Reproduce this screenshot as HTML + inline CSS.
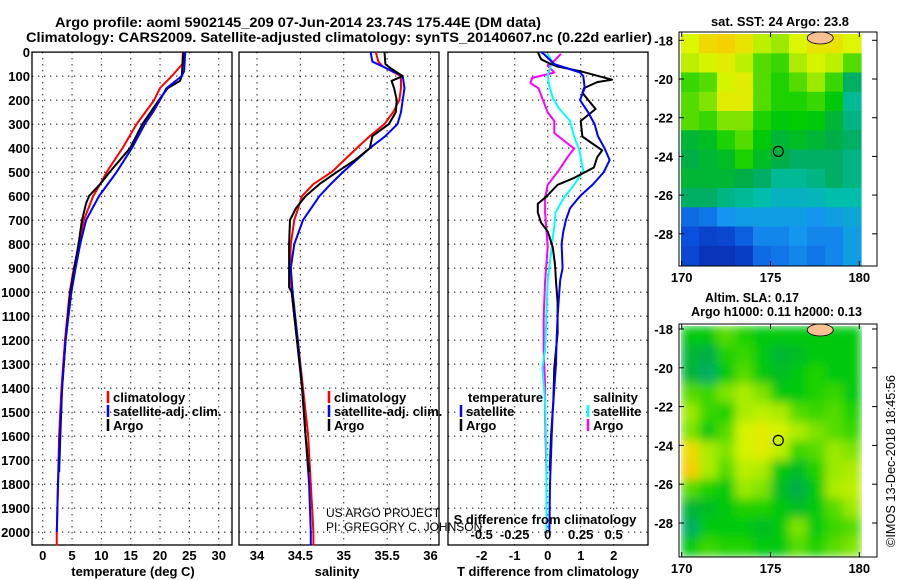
<!DOCTYPE html>
<html><head><meta charset="utf-8"><style>
html,body{margin:0;padding:0;background:#fff;}
svg{display:block;font-family:"Liberation Sans",sans-serif;}
.t{font-weight:bold;font-size:14px;}
.k{font-weight:bold;font-size:13px;}
.n{font-weight:normal;font-size:12px;}
</style></head><body>
<svg id="c" width="900" height="580" viewBox="0 0 900 580" xmlns="http://www.w3.org/2000/svg">
<text class="t" x="55" y="27" textLength="486" lengthAdjust="spacingAndGlyphs">Argo profile: aoml 5902145_209 07-Jun-2014 23.74S 175.44E (DM data)</text>
<text class="t" x="26" y="42" textLength="626" lengthAdjust="spacingAndGlyphs">Climatology: CARS2009. Satellite-adjusted climatology: synTS_20140607.nc (0.22d earlier)</text>
<text class="k" x="711" y="26" textLength="138" lengthAdjust="spacingAndGlyphs">sat. SST: 24 Argo: 23.8</text>
<text class="k" x="705" y="302" textLength="94" lengthAdjust="spacingAndGlyphs">Altim. SLA: 0.17</text>
<text class="k" x="691" y="316" textLength="171" lengthAdjust="spacingAndGlyphs">Argo h1000: 0.11 h2000: 0.13</text>
<text x="895" y="547" font-size="13" transform="rotate(-90 895 547)" textLength="172" lengthAdjust="spacingAndGlyphs">©IMOS 13-Dec-2018 18:45:56</text>
<g id="g"></g>
</svg>
<script>
// ---- profile data (pressure dbar) ----
var tDepth=[0,50,100,150,200,300,400,500,550,600,700,800,900,1000,1200,1400,1600,1800,2000,2056];
var tClim=[23.9,23.8,22.0,20.0,19.0,16.0,13.6,10.9,9.8,8.6,7.0,6.2,5.3,4.6,3.8,3.2,2.8,2.6,2.4,2.4];
var sDepth=[0,40,60,100,150,200,250,300,350,400,500,550,600,700,800,900,1000,1100,1200,1400,1600,1800,2000,2056];
var tSatDepth=[0,80,100,150,200,250,300,400,500,600,700,800,900,1000,1200,1400,1600,1800,2000];
var tSat=[24.3,24.1,23.7,21.1,20.0,18.8,17.4,15.2,12.6,9.6,7.4,6.4,5.6,4.9,3.9,3.3,2.9,2.6,2.4];
var tArgoDepth=[0,100,120,150,200,300,400,500,550,600,630,700,800,900,1000,1200,1400,1600,1750];
var tArgo=[24.0,23.7,23.4,21.3,19.8,17.0,14.9,11.4,9.8,7.9,7.4,6.7,6.1,5.4,4.7,3.9,3.3,3.0,2.8];
var sClim=[35.37,35.4,35.45,35.66,35.66,35.64,35.57,35.47,35.3,35.15,34.86,34.65,34.52,34.43,34.39,34.38,34.4,34.43,34.47,34.53,34.59,34.62,34.65,34.65];
var sSat=[35.31,35.33,35.45,35.68,35.7,35.68,35.66,35.62,35.48,35.3,34.99,34.85,34.72,34.53,34.43,34.39,34.41,34.44,34.47,34.52,34.56,34.6,34.62,34.62];
var sArgoDepth=[0,50,70,100,120,150,200,250,300,350,400,450,500,550,600,650,700,800,900,980,1000,1200,1400,1600,1750];
var sArgo=[35.47,35.48,35.55,35.68,35.55,35.58,35.61,35.6,35.52,35.33,35.3,35.13,34.92,34.72,34.56,34.45,34.38,34.37,34.37,34.37,34.4,34.46,34.52,34.56,34.6];
// differences
var dTSatDepth=[0,10,50,85,100,150,200,250,300,350,400,450,500,550,600,650,700,750,800,900,950,1000,1100,1200,1300,1400,1500,1600,1800,2000];
var dTSat=[-0.2,-0.1,0.2,0.98,1.08,1.12,0.98,1.22,1.42,1.52,1.72,1.88,1.7,1.38,0.98,0.68,0.55,0.47,0.42,0.45,0.38,0.35,0.3,0.27,0.25,0.2,0.15,0.12,0.07,0.05];
var dTArgoDepth=[0,30,50,60,80,115,125,150,170,237,287,352,381,409,438,481,524,553,603,632,668,711,747,812,884,955,1042,1171,1315,1458,1602,1745];
var dTArgo=[-0.3,-0.2,0.1,0.3,1.0,1.95,1.5,1.1,1.05,1.45,1.0,1.05,1.35,1.65,1.5,1.4,0.8,0.3,-0.05,-0.3,-0.3,-0.2,0.0,0.15,0.22,0.25,0.3,0.3,0.2,0.17,0.1,0.06];
var dSSatDepth=[7,36,65,93,136,194,237,287,352,409,467,496,553,610,668,725,812,955,1099,1243,1315,1458,1674,2005];
var dSSat=[0.0,0.03,0.02,0.0,0.01,0.04,0.09,0.17,0.2,0.24,0.26,0.27,0.2,0.12,0.06,0.05,0.03,0.0,-0.01,-0.02,-0.04,-0.02,-0.01,-0.01];
var dSArgoDepth=[7,36,57,85,108,129,151,208,251,287,337,381,402,438,496,553,610,668,812,955,1099,1243,1387,1530,1745];
var dSArgo=[0.1,0.05,0.0,0.05,-0.12,-0.13,-0.07,-0.03,0.0,0.05,0.05,0.15,0.2,0.15,0.08,0.0,-0.02,-0.02,0.0,-0.02,-0.03,-0.03,-0.02,-0.02,-0.01];
var depthTicks=[0,100,200,300,400,500,600,700,800,900,1000,1100,1200,1300,1400,1500,1600,1700,1800,1900,2000];
var tTicks=[0,5,10,15,20,25,30];
var sTicks=[34,34.5,35,35.5,36];
var sTickLabels=["34","34.5","35","35.5","36"];
var dTTicks=[-2,-1,0,1,2];
var dSTicks=[-0.5,-0.25,0,0.25,0.5];
var dSTickLabels=["-0.5","-0.25","0","0.25","0.5"];
// ---- map data (colormap index 0..1), rows north->south, 10 cols west->east ----
var sstGrid=[
[0.76,0.82,0.84,0.8,0.72,0.68,0.76,0.8,0.8,0.76],
[0.72,0.75,0.78,0.72,0.62,0.6,0.7,0.75,0.72,0.62],
[0.6,0.62,0.75,0.78,0.62,0.58,0.62,0.68,0.6,0.45],
[0.62,0.65,0.78,0.78,0.62,0.58,0.58,0.6,0.55,0.4],
[0.62,0.6,0.65,0.65,0.58,0.55,0.56,0.55,0.5,0.42],
[0.5,0.52,0.58,0.62,0.55,0.5,0.52,0.5,0.48,0.45],
[0.48,0.5,0.52,0.58,0.52,0.48,0.45,0.45,0.45,0.42],
[0.5,0.5,0.5,0.48,0.45,0.4,0.4,0.42,0.45,0.42],
[0.45,0.45,0.42,0.4,0.38,0.35,0.35,0.36,0.38,0.38],
[0.2,0.22,0.28,0.3,0.3,0.3,0.3,0.28,0.3,0.32],
[0.15,0.1,0.12,0.18,0.25,0.25,0.28,0.25,0.25,0.3],
[0.12,0.05,0.05,0.08,0.2,0.22,0.25,0.22,0.25,0.3]];
var slaGrid=[
[0.55,0.55,0.62,0.58,0.55,0.55,0.55,0.55,0.55,0.55],
[0.5,0.48,0.58,0.6,0.55,0.5,0.52,0.55,0.55,0.55],
[0.5,0.45,0.55,0.62,0.55,0.52,0.55,0.58,0.55,0.55],
[0.62,0.6,0.65,0.7,0.65,0.55,0.55,0.58,0.6,0.55],
[0.68,0.6,0.58,0.7,0.72,0.7,0.62,0.6,0.62,0.58],
[0.65,0.55,0.62,0.75,0.78,0.75,0.7,0.65,0.62,0.6],
[0.82,0.7,0.65,0.75,0.78,0.72,0.6,0.62,0.68,0.65],
[0.85,0.7,0.62,0.72,0.7,0.55,0.52,0.58,0.68,0.7],
[0.62,0.58,0.55,0.68,0.65,0.52,0.48,0.55,0.7,0.72],
[0.5,0.52,0.55,0.58,0.58,0.55,0.52,0.55,0.62,0.68],
[0.45,0.55,0.55,0.55,0.52,0.55,0.65,0.55,0.6,0.62],
[0.55,0.6,0.58,0.58,0.55,0.55,0.62,0.58,0.62,0.65]];
var lonTicks=[170,175,180];
var latTicks=[-18,-20,-22,-24,-26,-28];
var argoLon=175.44, argoLat=-23.74;

var NS="http://www.w3.org/2000/svg";
var G=document.getElementById('g');
function mk(tag,at,parent){var e=document.createElementNS(NS,tag);for(var k in at)e.setAttribute(k,at[k]);(parent||G).appendChild(e);return e;}
var Y0=52.1,YS=0.24,PB=545;
function yD(p){return Y0+p*YS;}
function xT(v){return 42.7+v*5.867;}
function xS(v){return 257+(v-34)*86.75;}
function xDT(v){return 547.7+v*33;}
function xDS(v){return 547.7+v*132;}
var panels=[[32,232,'temperature-panel'],[239,439,'salinity-panel'],[448,648,'difference-panel']];
function panel(p,xt,fx){
  var gp=mk('g',{});
  
  
  depthTicks.forEach(function(d){var y=yD(d);if(y<=Y0+0.5)return;
    var l=mk('line',{x1:p[0],x2:p[1],y1:y,y2:y,stroke:'#000','stroke-dasharray':'1.3 4.7','stroke-width':1},gp);
    });
  xt.forEach(function(v){var x=fx(v);
    var l=mk('line',{x1:x,x2:x,y1:Y0,y2:PB,stroke:'#000','stroke-dasharray':'1.3 4.7','stroke-width':1},gp);
    });
  var r=mk('rect',{x:p[0],y:Y0,width:p[1]-p[0],height:PB-Y0,fill:'none',stroke:'#000','stroke-width':1.3},gp);
  
  return gp;
}
function series(depths,vals,fx,col,name,w,parent){
  var d='';for(var i=0;i<depths.length;i++){d+=(i?'L':'M')+fx(vals[i]).toFixed(1)+' '+yD(depths[i]).toFixed(1);}
  var e=mk('path',{d:d,fill:'none',stroke:col,'stroke-width':w||2,'stroke-linejoin':'round'},parent);
  
  
}
function txt(x,y,s,cls,anchor,name,extra){var e=mk('text',{x:x,y:y,'class':cls,'text-anchor':anchor||'start'});e.textContent=s;
  if(extra)for(var k in extra)e.setAttribute(k,extra[k]);return e;}

var p1=panel(panels[0],tTicks,xT);
series(tDepth,tClim,xT,'#ff0000','temperature-climatology-line',2,p1);
series(tArgoDepth,tArgo,xT,'#000','temperature-argo-line',2,p1);
series(tSatDepth,tSat,xT,'#0000ff','temperature-satellite-line',2,p1);
var p2=panel(panels[1],sTicks,xS);
series(sDepth,sClim,xS,'#ff0000','salinity-climatology-line',2,p2);
series(sDepth,sSat,xS,'#0000ff','salinity-satellite-line',2,p2);
series(sArgoDepth,sArgo,xS,'#000','salinity-argo-line',2,p2);
var p3=panel(panels[2],dTTicks,xDT);
series(dSArgoDepth,dSArgo,xDS,'#ff00ff','salinity-diff-argo-line',2,p3);
series(dSSatDepth,dSSat,xDS,'#00ffff','salinity-diff-satellite-line',2,p3);
series(dTArgoDepth,dTArgo,xDT,'#000','temperature-diff-argo-line',2,p3);
series(dTSatDepth,dTSat,xDT,'#0000ff','temperature-diff-satellite-line',2,p3);

depthTicks.forEach(function(d){txt(30,yD(d)+5,String(d),'k','end','depth-tick-label');});
tTicks.forEach(function(v){txt(xT(v),560,String(v),'k','middle','temperature-tick-label');});
sTicks.forEach(function(v,i){txt(xS(v),560,sTickLabels[i],'k','middle','salinity-tick-label');});
dTTicks.forEach(function(v){txt(xDT(v),560,String(v),'k','middle','t-diff-tick-label');});
dSTicks.forEach(function(v,i){txt(xDS(v),539,dSTickLabels[i],'k','middle','s-diff-tick-label');});
txt(133,576,'temperature (deg C)','k','middle','temperature-axis-title');
txt(337,576,'salinity','k','middle','salinity-axis-title');
txt(548,576,'T difference from climatology','k','middle','t-diff-axis-title');
txt(545,524,'S difference from climatology','k','middle','s-diff-axis-title');
txt(326,517,'US ARGO PROJECT','n','start','credit-project');
txt(326,531,'PI: GREGORY C. JOHNSON','n','start','credit-pi');
function legItem(x,y,col,label,name){var l=mk('line',{x1:x,x2:x,y1:y-11,y2:y+1,stroke:col,'stroke-width':2.5});
  
  txt(x+5,y,label,'k','start',name);}
legItem(108,402,'#ff0000','climatology','legend-climatology');
legItem(108,416,'#0000ff','satellite-adj. clim.','legend-satellite');
legItem(108,430,'#000','Argo','legend-argo');
legItem(329,402,'#ff0000','climatology','legend-climatology-2');
legItem(329,416,'#0000ff','satellite-adj. clim.','legend-satellite-2');
legItem(329,430,'#000','Argo','legend-argo-2');
txt(468,402,'temperature','k','start','legend-temperature-header');
legItem(461,416,'#0000ff','satellite','legend-t-satellite');
legItem(461,430,'#000','Argo','legend-t-argo');
txt(593,402,'salinity','k','start','legend-salinity-header');
legItem(588,416,'#00ffff','satellite','legend-s-satellite');
legItem(588,430,'#ff00ff','Argo','legend-s-argo');

// ---- maps ----
var stops=[[0,[10,40,170]],[0.15,[10,80,220]],[0.28,[20,150,240]],[0.38,[0,190,170]],[0.47,[0,170,80]],[0.56,[0,205,0]],[0.66,[140,230,0]],[0.76,[220,245,0]],[0.86,[250,200,0]],[0.95,[245,140,20]],[1,[240,110,20]]];
function cmap(v){for(var i=1;i<stops.length;i++){if(v<=stops[i][0]){var a=stops[i-1],b=stops[i],t=(v-a[0])/(b[0]-a[0]);
  return 'rgb('+[0,1,2].map(function(j){return Math.round(a[1][j]+(b[1][j]-a[1][j])*t);}).join(',')+')';}}return 'rgb(240,110,20)';}
function drawMap(top,bottom,lat18y,latStep,grid,name,smooth){
  var gm=mk('g',{});
  var ix0=681,ix1=861,rows=grid.length,cols=grid[0].length,cw=(ix1-ix0)/cols,ch=(bottom-top)/rows;
  var gc=mk('g',smooth?{filter:'url(#blur)'}:{},gm);
  for(var r=0;r<rows;r++)for(var c=0;c<cols;c++){
    var cell=mk('rect',{x:(ix0+c*cw).toFixed(1),y:(top+r*ch).toFixed(1),width:(cw+0.6).toFixed(1),height:(ch+0.6).toFixed(1),fill:cmap(grid[r][c])},gc);
    }
  function lx(l){return 681.7+(l-170)*17.76;}
  function ly(l){return lat18y+(-18-l)/2*latStep;}
  var isl=mk('ellipse',{cx:lx(177.8),cy:top+4,rx:13,ry:6,fill:'#f8c090',stroke:'#000','stroke-width':0.8},gm);
  
  var c2=mk('circle',{cx:lx(argoLon),cy:ly(argoLat),r:5,fill:'none',stroke:'#000','stroke-width':1.2},gm);
  
  var fr=mk('rect',{x:679,y:top-2,width:198,height:bottom-top+3,fill:'none',stroke:'#000','stroke-width':1},gm);
  
  latTicks.forEach(function(l){var y=ly(l);mk('line',{x1:679,x2:684,y1:y,y2:y,stroke:'#000'},gm);mk('line',{x1:872,x2:877,y1:y,y2:y,stroke:'#000'},gm);
    txt(673,y+5,String(l),'k','end','map-lat-label');});
  lonTicks.forEach(function(l){var x=lx(l);mk('line',{x1:x,x2:x,y1:top-2,y2:top+3,stroke:'#000'},gm);mk('line',{x1:x,x2:x,y1:bottom-4,y2:bottom+1,stroke:'#000'},gm);
    txt(x,bottom+17,String(l),'k','middle','map-lon-label');});
}
var defs=mk('defs',{});var f=mk('filter',{id:'blur',x:'0',y:'0',width:'1',height:'1'},defs);mk('feGaussianBlur',{stdDeviation:'5'},f);
drawMap(34,265,40.3,38.7,sstGrid,'sst-map',false);
drawMap(326,556,329,38.8,slaGrid,'sla-map',true);
</script>
</body></html>
